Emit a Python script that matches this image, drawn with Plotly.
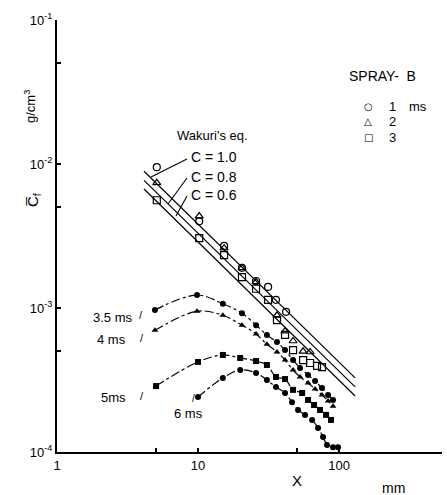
import plotly.graph_objects as go

# ---- open symbols : SPRAY-B, injection duration 1, 2, 3 ms ----
x_1ms = [5.1, 10.2, 15.3, 20.5, 25.8, 31.4, 35.7, 42.1]
y_1ms = [9.5e-3, 4.0e-3, 2.7e-3, 1.9e-3, 1.54e-3, 1.40e-3, 1.14e-3, 9.4e-4]

x_2ms = [5.1, 10.2, 15.3, 20.5, 25.8, 36.3, 41.4, 47.2, 55.6, 62.3]
y_2ms = [7.4e-3, 4.35e-3, 2.6e-3, 1.9e-3, 1.52e-3, 8.9e-4, 6.9e-4, 5.9e-4, 5.0e-4, 4.95e-4]

x_3ms = [5.1, 10.2, 15.3, 20.5, 25.8, 31.4, 36.3, 41.4, 47.2, 55.6, 62.3, 69.8, 75.7]
y_3ms = [5.6e-3, 3.06e-3, 2.33e-3, 1.64e-3, 1.36e-3, 1.14e-3, 8.25e-4, 6.5e-4,
         5.1e-4, 4.35e-4, 4.15e-4, 3.96e-4, 3.89e-4]

# ---- filled symbols : 3.5, 4, 5, 6 ms ----
x_35ms = [4.95, 9.84, 15.0, 20.5, 25.8, 30.8, 36.3, 41.4, 47.2, 52.9, 60.3, 67.6, 75.7, 83.6, 90.6]
y_35ms = [9.7e-4, 1.23e-3, 1.07e-3, 9.2e-4, 7.6e-4, 6.5e-4, 5.8e-4, 5.1e-4, 4.35e-4,
          3.83e-4, 3.43e-4, 3.11e-4, 2.78e-4, 2.49e-4, 2.30e-4]

x_4ms = [4.95, 9.84, 15.0, 20.5, 25.8, 30.8, 36.3, 41.4, 47.2, 52.9, 60.3, 67.6, 75.7, 83.6, 90.6]
y_4ms = [7.0e-4, 9.5e-4, 8.9e-4, 7.6e-4, 6.6e-4, 5.6e-4, 4.95e-4, 4.35e-4, 3.71e-4,
         3.32e-4, 3.01e-4, 2.74e-4, 2.49e-4, 2.26e-4, 2.08e-4]

x_5ms = [5.04, 10.0, 15.0, 19.9, 25.8, 30.8, 35.7, 41.4, 47.2, 54.7, 60.3, 66.5, 73.3, 80.9, 87.7]
y_5ms = [2.87e-4, 4.22e-4, 4.72e-4, 4.50e-4, 4.28e-4, 4.02e-4, 3.32e-4, 3.21e-4, 2.70e-4,
         2.57e-4, 2.30e-4, 2.12e-4, 1.96e-4, 1.81e-4, 1.67e-4]

x_6ms = [10.0, 15.0, 19.9, 25.8, 30.8, 35.7, 41.4, 46.4, 51.2, 57.4, 64.4, 71.0, 77.0, 82.2, 90.6, 98.4]
y_6ms = [2.41e-4, 3.27e-4, 3.71e-4, 3.54e-4, 3.16e-4, 2.83e-4, 2.57e-4, 2.22e-4, 1.96e-4,
         1.81e-4, 1.67e-4, 1.47e-4, 1.27e-4, 1.12e-4, 1.08e-4, 1.08e-4]

# ---- Wakuri's equation lines (end points) ----
wakuri_x = [4.14, 130.0]
wakuri_c10 = [8.9e-3, 3.27e-4]
wakuri_c08 = [7.7e-3, 2.83e-4]
wakuri_c06 = [6.7e-3, 2.45e-4]

x_tickvals = [1, 5, 10, 50, 100]
x_ticktext = ["1", "", "10", "", "100"]
y_tickvals = [1e-4, 5e-4, 1e-3, 5e-3, 1e-2, 5e-2, 1e-1]
y_ticktext = ["10<sup>-4</sup>", "", "10<sup>-3</sup>", "", "10<sup>-2</sup>", "", "10<sup>-1</sup>"]

legend_labels = ["1", "2", "3"]
legend_symbols = ["\u25cb", "\u25b3", "\u25a1"]

FONT = "Liberation Sans"
BLACK = "black"

fig = go.Figure()

for wy in (wakuri_c10, wakuri_c08, wakuri_c06):
    fig.add_trace(go.Scatter(x=wakuri_x, y=wy, mode="lines",
                             line=dict(color=BLACK, width=1.2), showlegend=False,
                             hoverinfo="skip"))

for xs, ys, sym in ((x_35ms, y_35ms, "circle"), (x_4ms, y_4ms, "triangle-up"),
                    (x_5ms, y_5ms, "square"), (x_6ms, y_6ms, "circle")):
    fig.add_trace(go.Scatter(x=xs, y=ys, mode="lines+markers",
                             line=dict(color=BLACK, width=1.2, dash="dashdot", shape="spline"),
                             marker=dict(symbol=sym, size=6, color=BLACK),
                             showlegend=False))

open_series = ((x_1ms, y_1ms, "circle-open", "1 ms"),
               (x_2ms, y_2ms, "triangle-up-open", "2 ms"),
               (x_3ms, y_3ms, "square-open", "3 ms"))
for xs, ys, sym, name in open_series:
    fig.add_trace(go.Scatter(x=xs, y=ys, mode="markers", name=name, showlegend=False,
                             marker=dict(symbol=sym, size=7, color=BLACK,
                                         line=dict(width=1.2, color=BLACK))))

L, R, T, B = 57, 5, 20, 43
W, H = 447, 495
PW, PH = W - L - R, H - T - B


def px(x, y):
    return (x - L) / PW, (H - B - y) / PH


annos = []


def text(s, x, y, size=13, xanchor="center", angle=0, family=FONT):
    xp, yp = px(x, y)
    annos.append(dict(text=s, x=xp, y=yp, xref="paper", yref="paper", showarrow=False,
                      xanchor=xanchor, yanchor="middle", textangle=angle,
                      font=dict(family=family, size=size, color=BLACK)))


text("Wakuri's eq.", 212, 135, 13)
text("C = 1.0", 189, 157, 14, "left")
text("C = 0.8", 189, 177, 14, "left")
text("C = 0.6", 189, 195, 14, "left")
text("3.5 ms", 135, 317, 13, "right")
text("/", 141, 315, 11)
text("4 ms", 128, 339, 13, "right")
text("/", 142, 338, 11)
text("5ms", 128, 397, 13, "right")
text("/", 142, 396, 11)
text("6 ms", 188, 413, 13)
text("/", 193, 398, 10)
text("SPRAY-\u00a0\u00a0B", 382, 76, 14)
for i, (sym, lab) in enumerate(zip(legend_symbols, legend_labels)):
    yy = 106 + i * 15.5
    text(sym, 368, yy, 10, family="DejaVu Sans")
    text(lab, 392, yy, 13)
text("ms", 418, 107, 13)
text("X", 297, 481, 15)
text("mm", 393, 488, 14)
text("g/cm<sup>3</sup>", 30, 107, 13, angle=-90)
text("C\u0305<sub>f</sub>", 34, 200, 15, angle=-90)

shapes = []
for (x0, y0), (x1, y1) in (((151, 177), (187, 159)),
                           ((168, 204), (187, 178)),
                           ((176, 216), (187, 196))):
    a, b = px(x0, y0)
    c, d = px(x1, y1)
    shapes.append(dict(type="line", xref="paper", yref="paper", x0=a, y0=b, x1=c, y1=d,
                       line=dict(color=BLACK, width=1.1)))

fig.update_layout(
    width=W, height=H, autosize=False,
    margin=dict(l=L, r=R, t=T, b=B, pad=0),
    paper_bgcolor="white", plot_bgcolor="white",
    font=dict(family=FONT, size=13, color=BLACK),
    annotations=annos, shapes=shapes, showlegend=False,
    xaxis=dict(type="log", range=[0, 2.73], tickvals=x_tickvals, ticktext=x_ticktext,
               ticks="inside", ticklen=4, tickwidth=1.5, tickcolor=BLACK,
               showline=True, linewidth=2, linecolor=BLACK, showgrid=False,
               zeroline=False, tickfont=dict(size=13)),
    yaxis=dict(type="log", range=[-4, -1], tickvals=y_tickvals, ticktext=y_ticktext,
               ticks="inside", ticklen=4, tickwidth=1.5, tickcolor=BLACK,
               showline=True, linewidth=2, linecolor=BLACK, showgrid=False,
               zeroline=False, tickfont=dict(size=13)),
)

fig.write_html("out.html", config={"displayModeBar": False},
               post_script="document.body.style.margin='0px';document.body.style.padding='0px';")
